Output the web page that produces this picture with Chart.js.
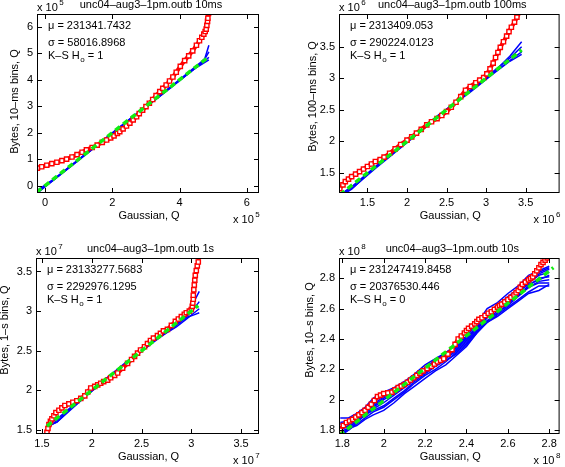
<!DOCTYPE html>
<html>
<head>
<meta charset="utf-8">
<script src="https://cdn.jsdelivr.net/npm/chart.js@4.4.0/dist/chart.umd.min.js"></script>
<style>
  body { margin: 0; background: #fff; }
  canvas { position: absolute; }
</style>
</head>
<body>
<canvas id="c1" width="285" height="232" style="left:0;top:0;width:285px;height:232px"></canvas>
<canvas id="c2" width="280" height="232" style="left:285px;top:0;width:280px;height:232px"></canvas>
<canvas id="c3" width="285" height="235" style="left:0;top:232px;width:285px;height:235px"></canvas>
<canvas id="c4" width="280" height="235" style="left:285px;top:232px;width:280px;height:235px"></canvas>
<script>
// ---- 10 ms bins (units of 1e5) ----
const p1XTicks = [0, 2, 4, 6];
const p1YTicks = [0, 1, 2, 3, 4, 5, 6];
const p1RedX = [-0.23, -0.1, 0.05, 0.2, 0.35, 0.5, 0.64, 0.8, 0.95, 1.1, 1.23, 1.4, 1.55, 1.7, 1.83, 1.95, 2.05, 2.15, 2.22, 2.32, 2.42, 2.52, 2.62, 2.72, 2.8, 2.9, 3.0, 3.1, 3.2, 3.3, 3.41, 3.5, 3.6, 3.7, 3.8, 3.9, 4.02, 4.15, 4.27, 4.39, 4.5, 4.59, 4.66, 4.72, 4.76, 4.79, 4.81, 4.83, 4.84, 4.86];
const p1RedY = [0.66, 0.71, 0.77, 0.83, 0.88, 0.94, 1.0, 1.08, 1.17, 1.26, 1.35, 1.44, 1.53, 1.63, 1.72, 1.8, 1.88, 1.97, 2.04, 2.14, 2.25, 2.36, 2.48, 2.6, 2.72, 2.85, 2.98, 3.11, 3.25, 3.4, 3.55, 3.67, 3.8, 3.95, 4.1, 4.28, 4.5, 4.72, 4.9, 5.09, 5.3, 5.47, 5.6, 5.72, 5.82, 5.91, 6.05, 6.2, 6.32, 6.5];
const p1BlueX = [-0.25, 0.3, 1.0, 1.8, 2.6, 3.4, 4.0, 4.5, 4.75, 4.87];
const p1BlueA = [-0.28, 0.25, 0.96, 1.77, 2.58, 3.36, 3.96, 4.48, 4.8, 5.3];
const p1BlueB = [-0.2, 0.28, 0.98, 1.78, 2.6, 3.4, 4.0, 4.52, 4.78, 5.05];
const p1BlueC = [-0.3, 0.26, 0.97, 1.76, 2.57, 3.37, 3.97, 4.47, 4.7, 4.85];
const p1BlueD = [-0.24, 0.27, 0.99, 1.79, 2.59, 3.38, 3.98, 4.46, 4.65, 4.75];
const p1GreenX = [-0.25, 4.85];
const p1GreenY = [-0.25, 4.85];

// ---- 100 ms bins (units of 1e6) ----
const p2Ticks = [1.5, 2, 2.5, 3, 3.5];
const p2RedX = [1.15, 1.19, 1.22, 1.26, 1.30, 1.35, 1.40, 1.45, 1.50, 1.55, 1.60, 1.66, 1.71, 1.78, 1.85, 1.92, 2.0, 2.06, 2.12, 2.18, 2.25, 2.31, 2.38, 2.44, 2.5, 2.56, 2.62, 2.68, 2.74, 2.8, 2.87, 2.92, 2.97, 3.01, 3.05, 3.09, 3.12, 3.15, 3.18, 3.22, 3.26, 3.29, 3.32, 3.36, 3.39, 3.43];
const p2RedY = [1.25, 1.31, 1.36, 1.40, 1.44, 1.48, 1.52, 1.56, 1.60, 1.64, 1.68, 1.71, 1.75, 1.81, 1.88, 1.95, 2.02, 2.07, 2.13, 2.19, 2.26, 2.31, 2.36, 2.41, 2.47, 2.54, 2.62, 2.71, 2.81, 2.87, 2.93, 2.97, 3.01, 3.07, 3.15, 3.24, 3.33, 3.41, 3.49, 3.58, 3.67, 3.74, 3.81, 3.89, 3.97, 4.05];
const p2BlueX = [1.15, 1.3, 1.6, 2.0, 2.4, 2.8, 3.1, 3.3, 3.45];
const p2BlueA = [1.13, 1.27, 1.58, 1.99, 2.40, 2.79, 3.1, 3.35, 3.58];
const p2BlueB = [1.16, 1.25, 1.57, 1.98, 2.39, 2.80, 3.12, 3.32, 3.5];
const p2BlueC = [1.12, 1.24, 1.59, 2.0, 2.41, 2.81, 3.09, 3.28, 3.42];
const p2BlueD = [1.15, 1.28, 1.6, 2.01, 2.42, 2.78, 3.08, 3.27, 3.38];
const p2GreenX = [1.15, 3.45];
const p2GreenY = [1.15, 3.45];

// ---- 1 s bins (units of 1e7) ----
const p3Ticks = [1.5, 2, 2.5, 3, 3.5];
const p3RedX = [1.55, 1.56, 1.57, 1.585, 1.60, 1.62, 1.64, 1.67, 1.70, 1.73, 1.77, 1.81, 1.85, 1.89, 1.93, 1.96, 1.99, 2.03, 2.06, 2.09, 2.12, 2.16, 2.19, 2.23, 2.26, 2.31, 2.36, 2.40, 2.43, 2.46, 2.49, 2.53, 2.56, 2.59, 2.62, 2.66, 2.69, 2.72, 2.76, 2.80, 2.84, 2.87, 2.90, 2.93, 2.95, 2.98, 3.0, 3.01, 3.015, 3.02, 3.02, 3.025, 3.03, 3.035, 3.04, 3.05, 3.06, 3.07, 3.08];
const p3RedY = [1.47, 1.52, 1.57, 1.61, 1.64, 1.68, 1.72, 1.75, 1.78, 1.81, 1.83, 1.85, 1.87, 1.9, 1.93, 1.98, 2.03, 2.05, 2.07, 2.09, 2.11, 2.13, 2.16, 2.19, 2.22, 2.28, 2.34, 2.39, 2.43, 2.47, 2.51, 2.55, 2.59, 2.63, 2.66, 2.69, 2.72, 2.75, 2.77, 2.82, 2.87, 2.9, 2.93, 2.96, 2.98, 3.0, 3.02, 3.06, 3.1, 3.15, 3.2, 3.27, 3.33, 3.39, 3.45, 3.51, 3.57, 3.62, 3.7];
const p3BlueX = [1.55, 1.65, 1.8, 2.0, 2.3, 2.6, 2.85, 2.95, 3.02, 3.08];
const p3BlueA = [1.52, 1.62, 1.8, 2.0, 2.31, 2.62, 2.84, 2.98, 3.1, 3.25];
const p3BlueB = [1.55, 1.6, 1.78, 1.99, 2.29, 2.6, 2.83, 2.93, 3.02, 3.12];
const p3BlueC = [1.57, 1.64, 1.79, 2.01, 2.3, 2.61, 2.8, 2.9, 2.97, 3.03];
const p3BlueD = [1.54, 1.6, 1.77, 1.99, 2.29, 2.59, 2.82, 2.92, 2.95, 2.98];
const p3GreenX = [1.55, 3.07];
const p3GreenY = [1.55, 3.07];

// ---- 10 s bins (units of 1e8) ----
const p4Ticks = [1.8, 2, 2.2, 2.4, 2.6, 2.8];
const p4RedX = [1.79, 1.805, 1.82, 1.835, 1.85, 1.865, 1.88, 1.895, 1.91, 1.925, 1.94, 1.955, 1.97, 1.985, 2.0, 2.02, 2.04, 2.055, 2.07, 2.085, 2.10, 2.115, 2.13, 2.145, 2.16, 2.175, 2.19, 2.21, 2.23, 2.245, 2.26, 2.275, 2.29, 2.31, 2.33, 2.345, 2.36, 2.375, 2.39, 2.40, 2.41, 2.425, 2.44, 2.45, 2.46, 2.475, 2.49, 2.505, 2.52, 2.535, 2.55, 2.56, 2.57, 2.585, 2.60, 2.615, 2.63, 2.64, 2.65, 2.66, 2.67, 2.685, 2.70, 2.71, 2.72, 2.73, 2.74, 2.75, 2.76, 2.77, 2.78, 2.79, 2.80];
const p4RedY = [1.80, 1.83, 1.85, 1.86, 1.87, 1.885, 1.90, 1.915, 1.93, 1.95, 1.97, 1.995, 2.02, 2.03, 2.04, 2.045, 2.05, 2.065, 2.08, 2.09, 2.10, 2.115, 2.13, 2.145, 2.16, 2.175, 2.19, 2.205, 2.22, 2.235, 2.25, 2.26, 2.27, 2.30, 2.33, 2.365, 2.40, 2.42, 2.44, 2.455, 2.47, 2.485, 2.50, 2.515, 2.53, 2.54, 2.555, 2.57, 2.58, 2.595, 2.61, 2.62, 2.63, 2.645, 2.66, 2.675, 2.69, 2.705, 2.72, 2.74, 2.76, 2.775, 2.79, 2.80, 2.81, 2.83, 2.85, 2.87, 2.89, 2.905, 2.92, 2.935, 2.95];
const p4BlueX = [1.79, 1.83, 1.87, 1.91, 1.95, 2.0, 2.05, 2.1, 2.15, 2.2, 2.25, 2.3, 2.35, 2.4, 2.45, 2.5, 2.55, 2.6, 2.65, 2.7, 2.75, 2.8];
const p4BlueA = [1.88, 1.88, 1.91, 1.95, 2.01, 2.05, 2.08, 2.12, 2.17, 2.23, 2.27, 2.31, 2.36, 2.42, 2.50, 2.60, 2.64, 2.70, 2.75, 2.82, 2.85, 2.88];
const p4BlueB = [1.85, 1.86, 1.90, 1.94, 1.99, 2.03, 2.07, 2.11, 2.16, 2.21, 2.26, 2.30, 2.35, 2.41, 2.48, 2.57, 2.62, 2.68, 2.73, 2.78, 2.83, 2.86];
const p4BlueC = [1.80, 1.83, 1.87, 1.92, 1.96, 2.01, 2.05, 2.10, 2.15, 2.20, 2.25, 2.29, 2.34, 2.40, 2.46, 2.54, 2.60, 2.65, 2.71, 2.77, 2.82, 2.84];
const p4BlueD = [1.78, 1.80, 1.85, 1.90, 1.94, 1.98, 2.03, 2.08, 2.13, 2.18, 2.23, 2.27, 2.32, 2.38, 2.45, 2.52, 2.57, 2.63, 2.69, 2.75, 2.80, 2.81];
const p4BlueE = [1.76, 1.80, 1.84, 1.88, 1.92, 1.95, 2.00, 2.05, 2.11, 2.16, 2.20, 2.25, 2.31, 2.37, 2.45, 2.52, 2.57, 2.62, 2.68, 2.74, 2.77, 2.77];
const p4BlueF = [1.82, 1.85, 1.89, 1.93, 1.97, 2.02, 2.06, 2.11, 2.16, 2.21, 2.25, 2.30, 2.36, 2.41, 2.47, 2.55, 2.63, 2.66, 2.72, 2.79, 2.84, 2.87];
const p4BlueG = [1.79, 1.81, 1.83, 1.87, 1.90, 1.93, 1.98, 2.04, 2.09, 2.14, 2.19, 2.23, 2.29, 2.35, 2.44, 2.51, 2.56, 2.61, 2.66, 2.71, 2.75, 2.75];
const p4BlueH = [1.81, 1.82, 1.86, 1.91, 1.95, 2.00, 2.04, 2.09, 2.14, 2.19, 2.24, 2.28, 2.33, 2.39, 2.45, 2.51, 2.55, 2.60, 2.65, 2.70, 2.72, 2.76];
const p4BlueI = [1.77, 1.81, 1.86, 1.92, 1.98, 2.04, 2.07, 2.10, 2.14, 2.21, 2.26, 2.31, 2.35, 2.40, 2.47, 2.56, 2.61, 2.67, 2.71, 2.76, 2.79, 2.82];
const p4BlueJ = [1.84, 1.85, 1.88, 1.90, 1.93, 1.96, 2.01, 2.06, 2.12, 2.17, 2.22, 2.26, 2.30, 2.36, 2.44, 2.51, 2.59, 2.64, 2.69, 2.74, 2.78, 2.79];
const p4GreenX = [1.785, 2.82];
const p4GreenY = [1.765, 2.87];

const FAM = '"Liberation Sans", Arial, Helvetica, sans-serif';

const panels = [
  { id: 'c1', box: [37, 14, 259, 193], xr: [-0.24, 6.36], yr: [-0.28, 6.48], xt: p1XTicks, yt: p1YTicks,
    redX: p1RedX, redY: p1RedY, blueX: p1BlueX, blues: [p1BlueA, p1BlueB, p1BlueC, p1BlueD], greenX: p1GreenX, greenY: p1GreenY,
    title: 'unc04–aug3–1pm.outb 10ms', ylabel: 'Bytes, 10–ms bins, Q', exp: '5',
    mu: '231341.7432', sigma: '58016.8968', h0: '1', ylx: 22, yly: -2 },
  { id: 'c2', box: [54, 14, 279, 193], xr: [1.14, 3.93], yr: [1.18, 4.02], xt: p2Ticks, yt: p2Ticks,
    redX: p2RedX, redY: p2RedY, blueX: p2BlueX, blues: [p2BlueA, p2BlueB, p2BlueC, p2BlueD], greenX: p2GreenX, greenY: p2GreenY,
    title: 'unc04–aug3–1pm.outb 100ms', ylabel: 'Bytes, 100–ms bins, Q', exp: '6',
    mu: '2313409.053', sigma: '290224.0123', h0: '1', ylx: 26, yly: -7 },
  { id: 'c3', box: [36, 26, 259, 202], xr: [1.44, 3.68], yr: [1.45, 3.67], xt: p3Ticks, yt: p3Ticks,
    redX: p3RedX, redY: p3RedY, blueX: p3BlueX, blues: [p3BlueA, p3BlueB, p3BlueC, p3BlueD], greenX: p3GreenX, greenY: p3GreenY,
    title: 'unc04–aug3–1pm.outb 1s', ylabel: 'Bytes, 1–s bins, Q', exp: '7',
    mu: '23133277.5683', sigma: '2292976.1295', h0: '1', ylx: 31, yly: -16 },
  { id: 'c4', box: [54, 26, 279, 202], xr: [1.784, 2.85], yr: [1.774, 2.934], xt: p4Ticks, yt: p4Ticks,
    redX: p4RedX, redY: p4RedY, blueX: p4BlueX,
    blues: [p4BlueA, p4BlueB, p4BlueC, p4BlueD, p4BlueE, p4BlueF, p4BlueG, p4BlueH, p4BlueI, p4BlueJ],
    greenX: p4GreenX, greenY: p4GreenY,
    title: 'unc04–aug3–1pm.outb 10s', ylabel: 'Bytes, 10–s bins, Q', exp: '8',
    mu: '231247419.8458', sigma: '20376530.446', h0: '0', ylx: 29, yly: -16 }
];

function pts(xs, ys) { return xs.map((x, i) => ({ x: x, y: ys[i] })); }

function drawExp(ctx, x, y, e) {
  ctx.font = '11px ' + FAM;
  ctx.textAlign = 'left';
  ctx.fillText('x 10', x, y);
  const w = ctx.measureText('x 10').width;
  ctx.font = '8px ' + FAM;
  ctx.fillText(e, x + w + 1.5, y - 5);
}

function drawFrame(chart, p) {
  const ctx = chart.ctx, a = chart.chartArea, xs = chart.scales.x, ys = chart.scales.y;
  ctx.save();
  ctx.strokeStyle = '#000';
  ctx.lineWidth = 1;
  ctx.strokeRect(a.left + 0.5, a.top + 0.5, a.right - a.left - 1, a.bottom - a.top - 1);
  ctx.beginPath();
  p.xt.forEach(v => {
    const px = Math.round(xs.getPixelForValue(v)) + 0.5;
    ctx.moveTo(px, a.bottom); ctx.lineTo(px, a.bottom - 5);
    ctx.moveTo(px, a.top); ctx.lineTo(px, a.top + 5);
  });
  p.yt.forEach(v => {
    const py = Math.round(ys.getPixelForValue(v)) + 0.5;
    ctx.moveTo(a.left, py); ctx.lineTo(a.left + 5, py);
    ctx.moveTo(a.right, py); ctx.lineTo(a.right - 5, py);
  });
  ctx.stroke();

  ctx.fillStyle = '#000';
  ctx.textBaseline = 'middle';
  ctx.font = '11px ' + FAM;
  ctx.textAlign = 'center';
  const cx = (a.left + a.right) / 2;
  ctx.fillText(p.title, cx + 3, a.top - 9);
  ctx.fillText('Gaussian, Q', cx + 1, a.bottom + 23);

  ctx.save();
  ctx.translate(a.left - p.ylx, (a.top + a.bottom) / 2 + p.yly);
  ctx.rotate(-Math.PI / 2);
  ctx.fillText(p.ylabel, 0, 0);
  ctx.restore();

  drawExp(ctx, a.left, a.top - 6, p.exp);
  drawExp(ctx, a.right - 26, a.bottom + 27, p.exp);

  ctx.font = '11px ' + FAM;
  ctx.textAlign = 'left';
  const tx = a.left + 11;
  ctx.fillText('μ = ' + p.mu, tx, a.top + 12);
  ctx.fillText('σ = ' + p.sigma, tx, a.top + 29);
  ctx.fillText('K–S H', tx, a.top + 42);
  const w = ctx.measureText('K–S H').width;
  ctx.font = '8px ' + FAM;
  ctx.fillText('o', tx + w + 0.5, a.top + 46);
  ctx.font = '11px ' + FAM;
  ctx.fillText(' = ' + p.h0, tx + w + 5, a.top + 42);
  ctx.restore();
}

panels.forEach(p => {
  const canvas = document.getElementById(p.id);
  const W = canvas.width, H = canvas.height;
  const [l, t, r, b] = p.box;
  const datasets = [
    { data: pts(p.greenX, p.greenY), showLine: true, borderColor: '#10ee10', borderWidth: 3.5, borderDash: [6, 4], pointRadius: 0, clip: 0 },
    { data: pts(p.redX, p.redY), showLine: true, borderColor: '#ff0000', borderWidth: 4, pointStyle: 'rect', pointRadius: 3,
      pointBorderColor: '#ff0000', pointBackgroundColor: '#ffffff', pointBorderWidth: 1.4, clip: 0 }
  ];
  p.blues.forEach(ys => {
    datasets.push({ data: pts(p.blueX, ys), showLine: true, borderColor: '#0000ff', borderWidth: 1.5, pointRadius: 0, clip: 0 });
  });
  const tickFont = { family: FAM, size: 11 };
  new Chart(canvas, {
    type: 'scatter',
    data: { datasets: datasets },
    options: {
      responsive: false, animation: false, devicePixelRatio: 1,
      layout: { padding: { left: 0, top: t, right: W - r, bottom: 0 } },
      plugins: { legend: { display: false }, tooltip: { enabled: false } },
      scales: {
        x: {
          type: 'linear', min: p.xr[0], max: p.xr[1],
          grid: { display: false, drawTicks: false }, border: { display: false },
          ticks: { font: tickFont, color: '#000', padding: 3, maxRotation: 0, autoSkip: false, callback: v => String(v) },
          afterBuildTicks: s => { s.ticks = p.xt.map(v => ({ value: v })); },
          afterFit: s => { s.height = H - b; }
        },
        y: {
          type: 'linear', min: p.yr[0], max: p.yr[1],
          grid: { display: false, drawTicks: false }, border: { display: false },
          ticks: { font: tickFont, color: '#000', padding: 4, autoSkip: false, callback: v => String(v) },
          afterBuildTicks: s => { s.ticks = p.yt.map(v => ({ value: v })); },
          afterFit: s => { s.width = l; }
        }
      }
    },
    plugins: [{ id: 'frame', afterDraw: chart => drawFrame(chart, p) }]
  });
});
</script>
</body>
</html>
